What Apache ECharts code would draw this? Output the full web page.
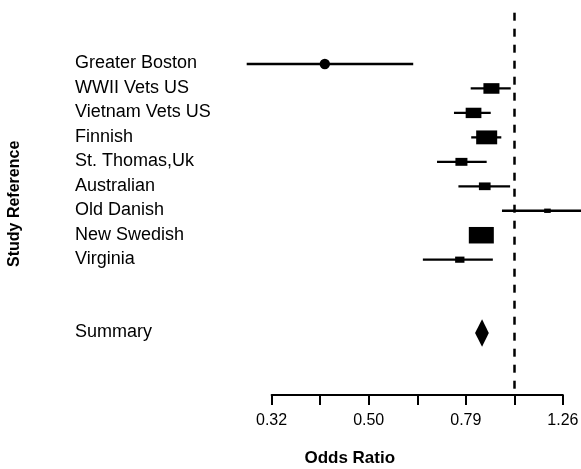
<!DOCTYPE html>
<html>
<head>
<meta charset="utf-8">
<script src="https://cdn.jsdelivr.net/npm/echarts@6/dist/echarts.min.js"></script>
<style>
html,body{margin:0;padding:0;background:#fff;}
#chart{width:581px;height:469px;}
</style>
</head>
<body>
<div id="chart"></div>
<script>
// ---- data ----
const studies = ['Greater Boston','WWII Vets US','Vietnam Vets US','Finnish','St. Thomas,Uk','Australian','Old Danish','New Swedish','Virginia'];
const oddsRatio = [0.407, 0.897, 0.824, 0.877, 0.778, 0.869, 1.170, 0.855, 0.772];
const ciLower   = [0.281, 0.813, 0.751, 0.815, 0.693, 0.767, 0.943, 0.822, 0.648];
const ciUpper   = [0.619, 0.983, 0.894, 0.940, 0.877, 0.980, 1.450, 0.887, 0.903];
const weights   = [null, 13.0, 12.5, 22.3, 7.3, 6.9, 2.2, 31.6, 4.4]; // relative study weight (%)
const summaryLabel = 'Summary';
const summaryOR = 0.858, summaryLower = 0.830, summaryUpper = 0.886;
const tickValues = [-0.5, -0.3, -0.1, 0.1];          // log10(odds ratio)
const tickLabels = ['0.32', '0.50', '0.79', '1.26'];
const xTitle = 'Odds Ratio';
const yTitle = 'Study Reference';

// ---- build ----
const FONT = 'Liberation Sans, Arial, Helvetica, sans-serif';
const lg = Math.log10;
const studyData = studies.map((s, i) => [lg(ciLower[i]), lg(oddsRatio[i]), lg(ciUpper[i]), i, weights[i] == null ? -1 : weights[i], s]);
const summaryRow = studies.length + 2;
const summaryData = [[lg(summaryLower), lg(summaryOR), lg(summaryUpper), summaryRow, 0, summaryLabel]];

function renderStudy(params, api) {
  const lo = api.coord([api.value(0), api.value(3)]);
  const est = api.coord([api.value(1), api.value(3)]);
  const hi = api.coord([api.value(2), api.value(3)]);
  const w = api.value(4);
  const name = studies[params.dataIndex];
  const children = [
    {type: 'line', shape: {x1: lo[0], y1: lo[1], x2: hi[0], y2: hi[1]}, style: {stroke: '#000', lineWidth: 2.3}}
  ];
  if (w < 0) {
    children.push({type: 'circle', shape: {cx: est[0], cy: est[1], r: 5.2}, style: {fill: '#000'}});
  } else {
    const bw = 4.45 * Math.sqrt(w), bh = 0.66 * bw;
    children.push({type: 'rect', shape: {x: est[0] - bw / 2, y: est[1] - bh / 2, width: bw, height: bh}, style: {fill: '#000'}});
  }
  children.push({type: 'text', x: 75, y: est[1] - 0.5, style: {text: name, fill: '#000', font: '18px ' + FONT, textAlign: 'left', textVerticalAlign: 'middle'}});
  return {type: 'group', children};
}

function renderSummary(params, api) {
  const lo = api.coord([api.value(0), api.value(3)]);
  const est = api.coord([api.value(1), api.value(3)]);
  const hi = api.coord([api.value(2), api.value(3)]);
  const hh = 13.7;
  return {type: 'group', children: [
    {type: 'polygon', shape: {points: [[lo[0], lo[1]], [est[0], est[1] - hh], [hi[0], hi[1]], [est[0], est[1] + hh]]}, style: {fill: '#000'}},
    {type: 'text', x: 75, y: est[1] - 1, style: {text: summaryLabel, fill: '#000', font: '18px ' + FONT, textAlign: 'left', textVerticalAlign: 'middle'}}
  ]};
}

const chart = echarts.init(document.getElementById('chart'), null, {renderer: 'canvas'});
chart.setOption({
  animation: false,
  backgroundColor: '#fff',
  grid: {left: 271.6, right: 18.1, top: 12.7, bottom: 74, containLabel: false, outerBoundsMode: 'none'},
  xAxis: {
    type: 'value', min: -0.5, max: 0.1, interval: 0.1,
    name: xTitle, nameLocation: 'middle', nameGap: 55,
    nameTextStyle: {fontFamily: FONT, fontSize: 17, fontWeight: 'bold', color: '#000', padding: [0, 135, 0, 0]},
    axisLine: {onZero: false, lineStyle: {color: '#000', width: 2}},
    axisTick: {length: 10, lineStyle: {color: '#000', width: 2}},
    axisLabel: {
      margin: 18, fontFamily: FONT, fontSize: 16, color: '#000',
      formatter: function (v) {
        for (let k = 0; k < tickValues.length; k++) if (Math.abs(v - tickValues[k]) < 1e-6) return tickLabels[k];
        return '';
      }
    },
    splitLine: {show: false}
  },
  yAxis: {
    type: 'value', inverse: true, min: -2.097, max: 13.532,
    name: yTitle, nameLocation: 'middle', nameGap: 249,
    nameTextStyle: {fontFamily: FONT, fontSize: 16, fontWeight: 'bold', color: '#000'},
    axisLine: {show: false}, axisTick: {show: false}, axisLabel: {show: false}, splitLine: {show: false}
  },
  series: [
    {
      type: 'custom', clip: false, renderItem: renderStudy, data: studyData,
      markLine: {
        silent: true, symbol: 'none', animation: false,
        label: {show: false},
        lineStyle: {color: '#000', width: 2.5, type: [8, 8]},
        data: [{xAxis: 0}]
      }
    },
    {type: 'custom', clip: false, renderItem: renderSummary, data: summaryData}
  ]
});
</script>
</body>
</html>
